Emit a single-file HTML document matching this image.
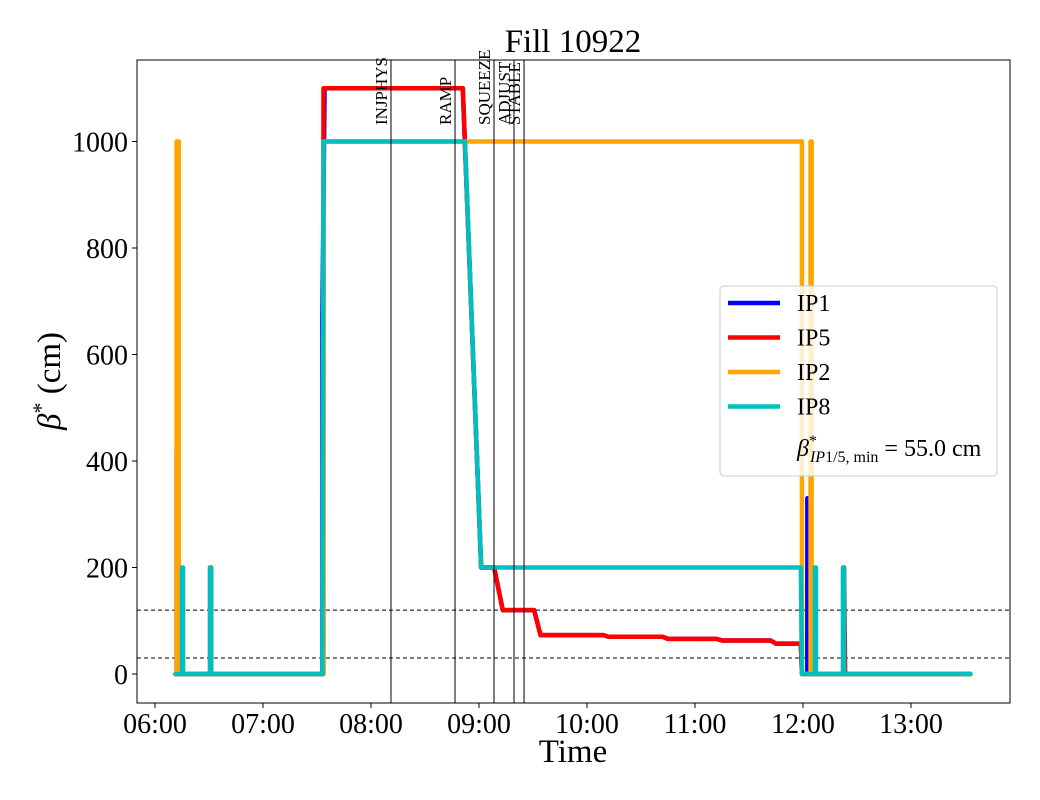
<!DOCTYPE html>
<html><head><meta charset="utf-8"><style>
html,body{margin:0;padding:0;background:#fff;}
svg{display:block;font-family:"Liberation Serif",serif;}
</style></head><body>
<svg id="chart" width="1040" height="800" viewBox="0 0 1040 800" xmlns="http://www.w3.org/2000/svg">
<text x="573" y="52" font-size="33" text-anchor="middle">Fill 10922</text>
<g id="plot"></g>
<text x="573" y="762" font-size="33" text-anchor="middle">Time</text>
<text transform="translate(60,381) rotate(-90)" font-size="33" text-anchor="middle"><tspan font-style="italic">β</tspan><tspan dy="-12" font-size="22">*</tspan><tspan dy="12"> (cm)</tspan></text>
</svg>
<script>
const xTickHours=[6,7,8,9,10,11,12,13];
const xTickLabels=["06:00","07:00","08:00","09:00","10:00","11:00","12:00","13:00"];
const yTicks=[0,200,400,600,800,1000];
const markerNames=["INJPHYS","RAMP","SQUEEZE","ADJUST","STABLE"];
const markerTimes=[8.185,8.778,9.139,9.324,9.417];
const refLevels=[120,30];
const ip1T=[6.19,6.2,6.2,6.22,7.55,7.55,7.57,8.85,9.02,9.14,9.22,9.51,9.57,10.15,10.2,10.7,10.75,11.2,11.25,11.7,11.75,11.98,11.99,12.04,12.04,12.05,13.55];
const ip1V=[0,0,420,0,0,670,1100,1100,200,200,120,120,73,73,70,70,66,66,63,63,57,57,0,0,330,0,0];
const ip5T=[6.19,6.51,6.51,6.52,6.52,7.56,7.56,8.85,9.02,9.14,9.22,9.51,9.57,10.15,10.2,10.7,10.75,11.2,11.25,11.7,11.75,11.98,11.99,12.38,12.38,12.39,13.55];
const ip5V=[0,0,200,200,0,0,1100,1100,200,200,120,120,73,73,70,70,66,66,63,63,57,57,0,0,200,0,0];
const ip2T=[6.19,6.2,6.2,6.22,6.22,7.56,7.56,11.99,11.99,12.07,12.07,12.08,12.08,13.55];
const ip2V=[0,0,1000,1000,0,0,1000,1000,0,0,1000,1000,0,0];
const ip8T=[6.19,6.25,6.25,6.26,6.26,6.51,6.51,6.52,6.52,7.55,7.56,8.87,9.02,11.98,11.99,12.11,12.11,12.12,12.12,12.37,12.37,12.38,12.38,13.55];
const ip8V=[0,0,200,200,0,0,200,200,0,0,1000,1000,200,200,0,0,200,200,0,0,200,200,0,0];

const L=137,R=1010,T=60,B=703;
const xs=t=>155+(t-6)*108;
const ys=v=>674-v*0.5325;
const NS="http://www.w3.org/2000/svg";
const g=document.getElementById('plot');
function mk(tag,attrs,parent){const e=document.createElementNS(NS,tag);for(const k in attrs)e.setAttribute(k,attrs[k]);(parent||g).appendChild(e);return e;}

refLevels.forEach((v,i)=>{
  const l=mk('line',{x1:L,x2:R,y1:ys(v),y2:ys(v),stroke:'#000','stroke-width':1,'stroke-dasharray':'4,3'});
  
  
});
function series(T_,V_,color,name){
  const p=mk('polyline',{points:T_.map((t,i)=>xs(t)+','+ys(V_[i])).join(' '),fill:'none',stroke:color,'stroke-width':4.5,'stroke-linejoin':'round','stroke-linecap':'round'});
  
  
}
series(ip1T,ip1V,'#0000ff','series-ip1');
series(ip5T,ip5V,'#ff0000','series-ip5');
series(ip2T,ip2V,'#ffa500','series-ip2');
series(ip8T,ip8V,'#00bfbf','series-ip8');
markerTimes.forEach((t,i)=>{
  const l=mk('line',{x1:xs(t),x2:xs(t),y1:T,y2:B,stroke:'#000','stroke-width':1});
  
  
  const tx=mk('text',{transform:`translate(${xs(t)-4},125) rotate(-90)`,'font-size':17});
  tx.textContent=markerNames[i];
  
  
});
const fr=mk('rect',{x:L,y:T,width:R-L,height:B-T,fill:'none',stroke:'#000','stroke-width':1});


yTicks.forEach(v=>{
  mk('line',{x1:L-5,x2:L,y1:ys(v),y2:ys(v),stroke:'#000'});
  const tx=mk('text',{x:L-9,y:ys(v)+10,'font-size':28,'text-anchor':'end'});
  tx.textContent=v;
  
  
});
xTickHours.forEach((h,i)=>{
  mk('line',{x1:xs(h),x2:xs(h),y1:B,y2:B+5,stroke:'#000'});
  const tx=mk('text',{x:xs(h),y:B+30,'font-size':28,'text-anchor':'middle'});
  tx.textContent=xTickLabels[i];
  
  
});
const lg=mk('g',{});


mk('rect',{x:720,y:286,width:277,height:190,rx:4,fill:'#fff','fill-opacity':0.8,stroke:'#ccc'},lg);
[['IP1','#0000ff'],['IP5','#ff0000'],['IP2','#ffa500'],['IP8','#00bfbf']].forEach((e,i)=>{
  const y=303+i*34.5;
  const ent=mk('g',{},lg);
  
  
  mk('line',{x1:728,x2:780,y1:y,y2:y,stroke:e[1],'stroke-width':4.5},ent);
  const tx=mk('text',{x:797,y:y+8,'font-size':24},ent);
  tx.textContent=e[0];
});
const bt=mk('text',{x:797,y:456,'font-size':24},lg);


bt.innerHTML='<tspan font-style="italic">β</tspan><tspan dy="-10" font-size="16">*</tspan><tspan dx="-7" dy="16" font-size="16" font-style="italic">IP</tspan><tspan font-size="16">1/5, min</tspan><tspan dy="-6"> = 55.0 cm</tspan>';
</script>
</body></html>
